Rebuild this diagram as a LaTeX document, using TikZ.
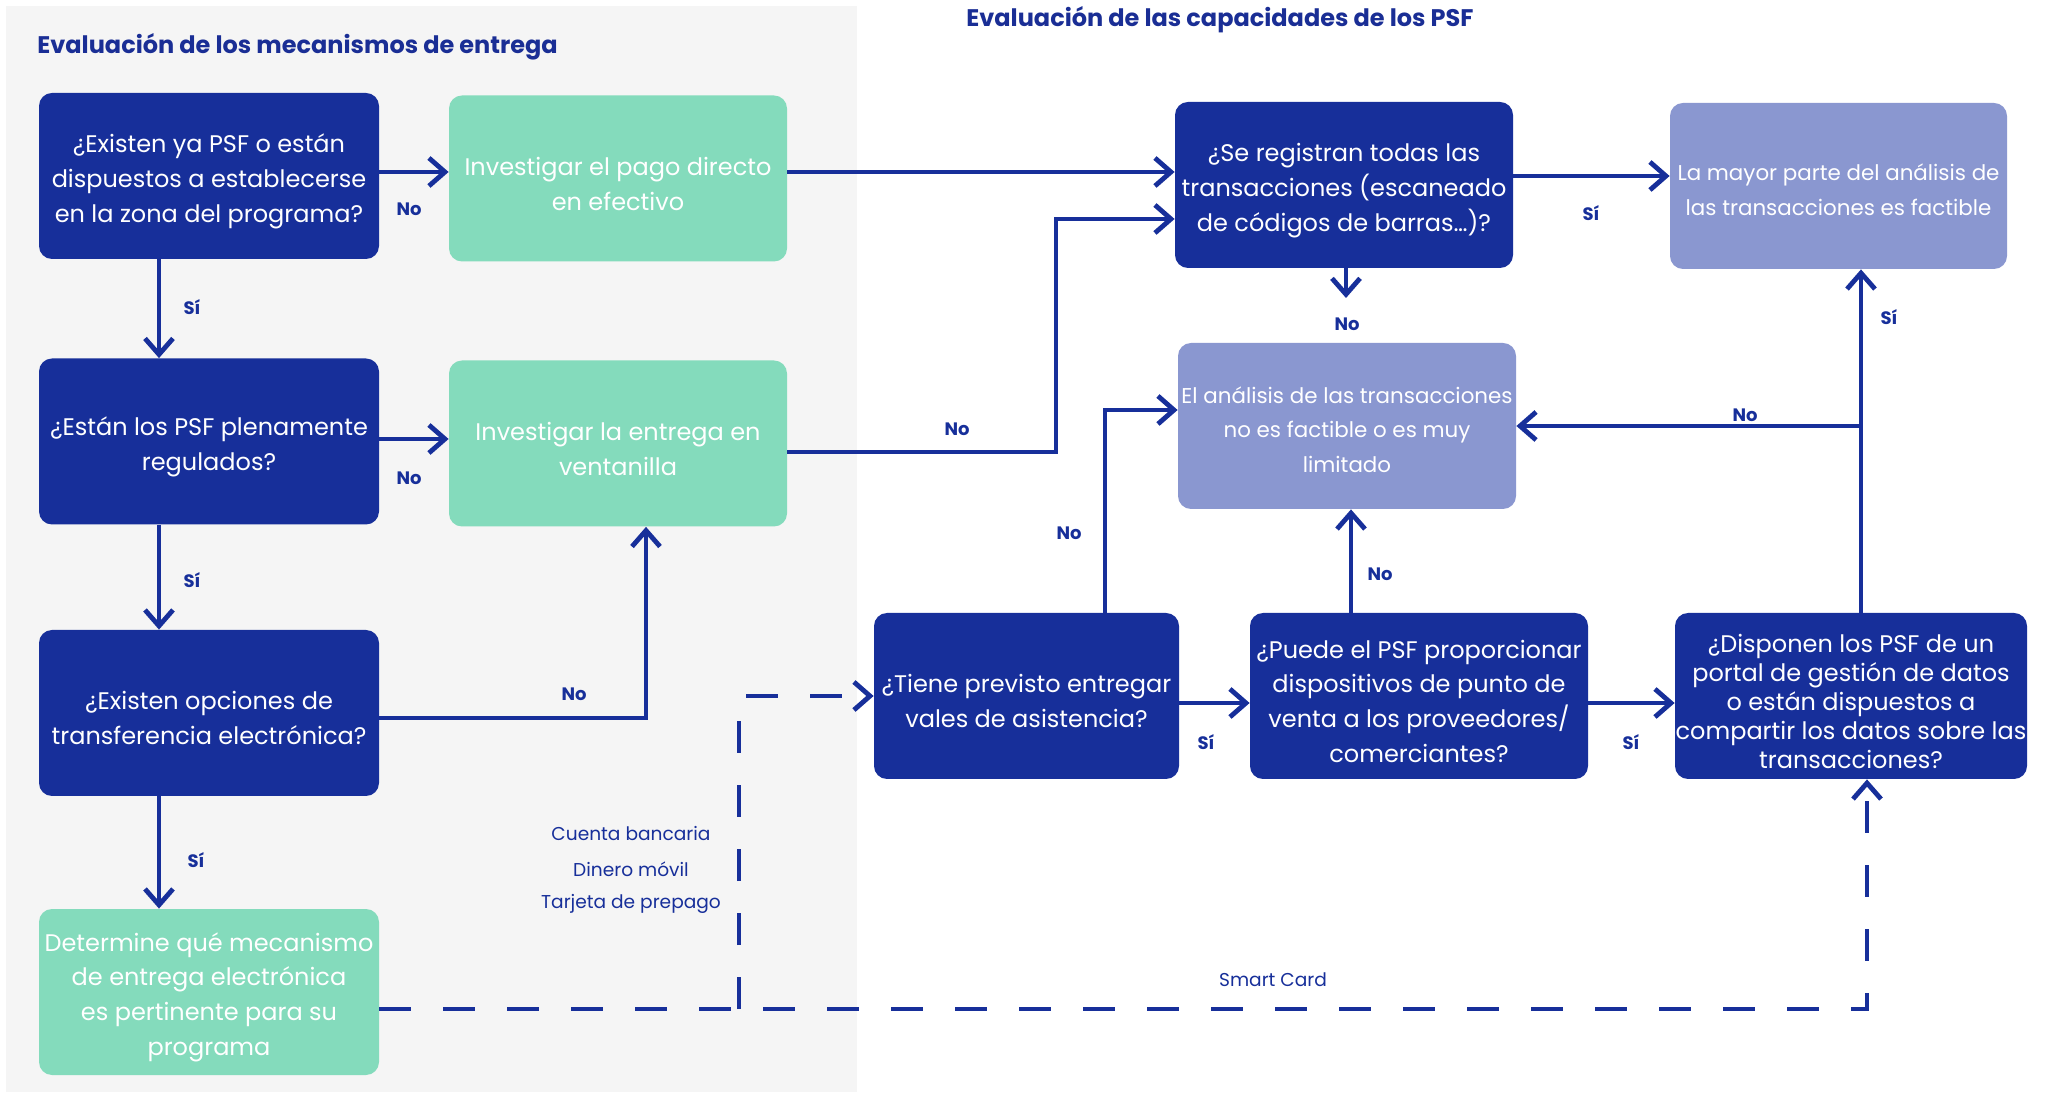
\documentclass[tikz,border=0pt]{standalone}
\usepackage{fontspec}
\setmainfont{Poppins}
\usetikzlibrary{arrows.meta,calc}

\definecolor{navy}{HTML}{172F9A}
\definecolor{mint}{HTML}{84DBBC}
\definecolor{lilac}{HTML}{8A97D0}
\definecolor{panel}{HTML}{F5F5F5}
\definecolor{heading}{HTML}{1A2E95}

% taller first line, so multi-line box texts sit a little lower
\newcommand\boxlift{\rule{0pt}{14.5pt}}
\newcommand\boxliftsm{\rule{0pt}{12pt}}

\tikzset{
  box/.style={rectangle, rounded corners=6.5pt, minimum height=83pt,
    align=center, text=white, inner sep=0pt,
    font=\fontsize{12}{17.4}\selectfont},
  qbox/.style={box, fill=navy},
  gbox/.style={box, fill=mint},
  pbox/.style={box, fill=lilac, font=\fontsize{10.7}{17.4}\selectfont},
  flow/.style={draw=navy, line width=2.4pt,
    -{Straight Barb[length=8pt,width=14pt]}},
  optflow/.style={flow, dash pattern=on 16pt off 16pt},
  lab/.style={font=\bfseries\fontsize{9}{10}\selectfont, text=navy, inner sep=0pt},
  small/.style={font=\fontsize{9.3}{11}\selectfont, text=navy, inner sep=0pt},
  title/.style={font=\bfseries\fontsize{12}{13}\selectfont, text=heading, inner sep=0pt}
}

\begin{document}
\begin{tikzpicture}[x=0.5pt,y=-0.5pt]
  % canvas and left-hand panel
  \fill[white] (0,0) rectangle (2051,1095);
  \path[use as bounding box] (0,0) rectangle (2051,1095);
  \fill[panel] (6,6) rectangle (857,1092);

  % section headings
  \node[title, anchor=west] (t1) at (37,47) {Evaluación de los mecanismos de entrega};
  \node[title, anchor=west] (t2) at (966,20) {Evaluación de las capacidades de los PSF};

  % delivery mechanism column
  \node[qbox, minimum width=170pt] (A) at (209,176)
    {\boxlift¿Existen ya PSF o están\\dispuestos a establecerse\\en la zona del programa?};
  \node[gbox, minimum width=169pt] (B) at (618,178.5)
    {\boxlift Investigar el pago directo\\en efectivo};
  \node[qbox, minimum width=170pt] (C) at (209,441.5)
    {\boxlift¿Están los PSF plenamente\\regulados?};
  \node[gbox, minimum width=169pt] (D) at (618,443.5)
    {\boxlift Investigar la entrega en\\ventanilla};
  \node[qbox, minimum width=170pt] (E) at (209,713)
    {\boxlift¿Existen opciones de\\transferencia electrónica?};
  \node[gbox, minimum width=170pt] (F) at (209,992)
    {\boxlift Determine qué mecanismo\\de entrega electrónica\\es pertinente para su\\programa};

  % PSF capacity part
  \node[qbox, minimum width=169pt] (G) at (1344,185)
    {\boxlift¿Se registran todas las\\transacciones (escaneado\\de códigos de barras…)?};
  \node[pbox, minimum width=168.5pt] (H) at (1838.5,186)
    {\boxliftsm La mayor parte del análisis de\\las transacciones es factible};
  \node[pbox, minimum width=169pt] (I) at (1347,426)
    {\boxliftsm El análisis de las transacciones\\no es factible o es muy\\limitado};
  \node[qbox, minimum width=152.5pt] (J) at (1026.5,696)
    {\boxlift¿Tiene previsto entregar\\vales de asistencia?};
  \node[qbox, minimum width=169pt] (K) at (1419,696)
    {\boxlift¿Puede el PSF proporcionar\\dispositivos de punto de\\venta a los proveedores/\\comerciantes?};
  \node[qbox, minimum width=176pt, font=\fontsize{12}{14.5}\selectfont] (L) at (1851,696)
    {\boxlift¿Disponen los PSF de un\\portal de gestión de datos\\o están dispuestos a\\compartir los datos sobre las\\transacciones?};

  % helper points for bent connectors
  \coordinate (ac) at ($(A.south)+(-50,0)$);
  \coordinate (ce) at ($(C.south)+(-50,0)$);
  \coordinate (ef) at ($(E.south)+(-50,0)$);
  \coordinate (dup) at ($(D.south)+(28,0)$);
  \coordinate (dg) at (1056,219);
  \coordinate (gend) at (1346,298);
  \coordinate (jt) at ($(J.north)+(78.5,0)$);
  \coordinate (kt) at ($(K.north)+(-68,0)$);
  \coordinate (lt) at ($(L.north)+(10,0)$);
  \coordinate (fd) at ($(F.east)+(0,17)$);
  \coordinate (split) at (739,1009);
  \coordinate (lb) at ($(L.south)+(16,0)$);

  % solid connectors
  \draw[flow] ($(A.east)+(0,-4)$) -- ($(B.west)+(0,-6.5)$);
  \draw[flow] (ac) -- (ac |- C.north);
  \draw[flow] ($(C.east)+(0,-2.5)$) -- ($(D.west)+(0,-4.5)$);
  \draw[flow] (ce) -- (ce |- E.north);
  \draw[flow] ($(E.east)+(0,5)$) -| (dup);
  \draw[flow] (ef) -- (ef |- F.north);
  \draw[flow] ($(B.east)+(0,-6.5)$) -- ($(G.west)+(0,-13)$);
  \draw[flow] ($(D.east)+(0,8.5)$) -| (dg) -- (dg -| G.west);
  \draw[flow] ($(G.east)+(0,-9)$) -- ($(H.west)+(0,-10)$);
  \draw[flow] (G.south -| gend) -- (gend);
  \draw[flow] (jt) |- ($(I.west)+(0,-16)$);
  \draw[flow] (kt) -- (kt |- I.south);
  \draw[flow] (lt) -- (lt |- H.south);
  \draw[flow] (lt |- I.east) -- (I.east);
  \draw[flow] ($(J.east)+(0,7)$) -- ($(K.west)+(0,7)$);
  \draw[flow] ($(K.east)+(0,7)$) -- ($(L.west)+(0,7)$);

  % dashed electronic options
  \draw[optflow] (fd) -| (lb);
  \draw[optflow] (split) |- (J.west);

  % branch labels
  \node[lab] (l1) at (409,209) {No};
  \node[lab] (l2) at (192,307) {Sí};
  \node[lab] (l3) at (409,478) {No};
  \node[lab] (l4) at (192,580) {Sí};
  \node[lab] (l5) at (574,694) {No};
  \node[lab] (l6) at (196,860) {Sí};
  \node[lab] (l7) at (957,429) {No};
  \node[lab] (l8) at (1591,213) {Sí};
  \node[lab] (l9) at (1347,324) {No};
  \node[lab] (l10) at (1069,533) {No};
  \node[lab] (l11) at (1380,574) {No};
  \node[lab] (l12) at (1745,415) {No};
  \node[lab] (l13) at (1889,317) {Sí};
  \node[lab] (l14) at (1206,742) {Sí};
  \node[lab] (l15) at (1631,742) {Sí};

  % option labels
  \node[small] (o1) at (631,834) {Cuenta bancaria};
  \node[small] (o2) at (631,869) {Dinero móvil};
  \node[small] (o3) at (631,904) {Tarjeta de prepago};
  \node[small] (o4) at (1273,980) {Smart Card};
\end{tikzpicture}
\end{document}
